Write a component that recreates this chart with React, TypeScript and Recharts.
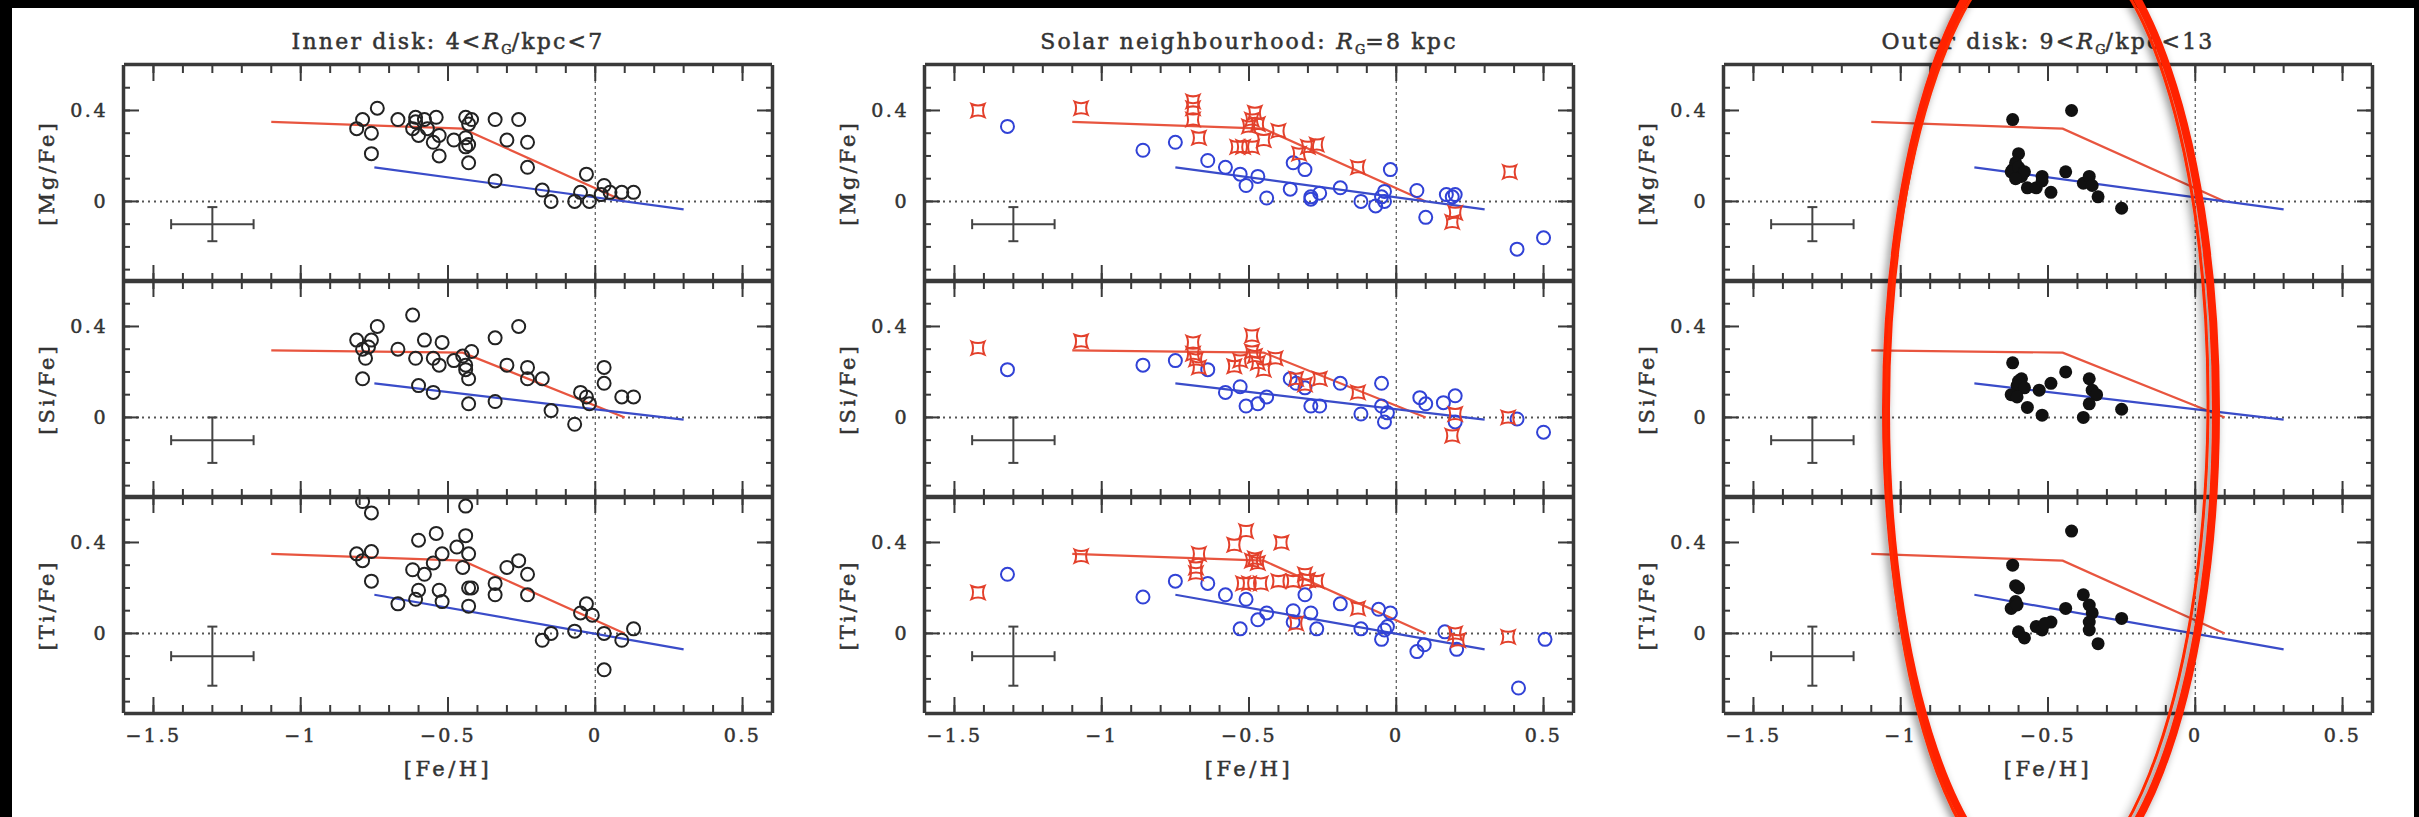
import React from 'react';
import { ScatterChart, Scatter, XAxis, YAxis, ReferenceLine, ErrorBar } from 'recharts';

// ---------- axes ----------
const X_DOMAIN = [-1.6, 0.6];
const Y_DOMAIN = [-0.35, 0.6];
const X_MAJOR = [-1.5, -1, -0.5, 0, 0.5];
const X_MINOR = [-1.5, -1.4, -1.3, -1.2, -1.1, -1, -0.9, -0.8, -0.7, -0.6, -0.5, -0.4, -0.3, -0.2, -0.1, 0, 0.1, 0.2, 0.3, 0.4, 0.5];
const Y_MAJOR = [0, 0.4];
const Y_MINOR = [-0.3, -0.2, -0.1, 0, 0.1, 0.2, 0.3, 0.4, 0.5];

const PANEL_TITLES = ['Inner disk: 4<', 'Solar neighbourhood: ', 'Outer disk: 9<'];
const PANEL_TITLE_TAILS = ['/kpc<7', '=8 kpc', '/kpc<13'];
const Y_TITLES = ['[Mg/Fe]', '[Si/Fe]', '[Ti/Fe]'];
const X_TITLE = '[Fe/H]';

// ---------- typical error bar ----------
const ERR_X = -1.3;
const ERR_Y = -0.1;
const ERR_DX = 0.14;
const ERR_DY = [0.075, 0.1, 0.13];

// ---------- model lines ----------
const THICK_MG = [[-1.1, 0.35], [-0.45, 0.32], [0.1, 0.0]];
const THICK_SI = [[-1.1, 0.295], [-0.45, 0.285], [0.1, 0.0]];
const THICK_TI = [[-1.1, 0.35], [-0.45, 0.32], [0.1, 0.0]];
const THIN_MG = [[-0.75, 0.15], [0.3, -0.035]];
const THIN_SI = [[-0.75, 0.15], [0.3, -0.01]];
const THIN_TI = [[-0.75, 0.17], [0.3, -0.07]];

// ---------- inner disk ----------
const INNER_MG = [[-0.79,0.36],[-0.81,0.32],[-0.76,0.30],[-0.74,0.41],[-0.76,0.21],[-0.67,0.36],[-0.61,0.37],[-0.61,0.35],[-0.58,0.36],[-0.54,0.37],[-0.62,0.32],[-0.60,0.29],[-0.57,0.32],[-0.55,0.26],[-0.53,0.29],[-0.53,0.20],[-0.48,0.27],[-0.44,0.37],[-0.43,0.34],[-0.44,0.28],[-0.43,0.25],[-0.44,0.24],[-0.43,0.17],[-0.42,0.36],[-0.34,0.36],[-0.26,0.36],[-0.30,0.27],[-0.23,0.26],[-0.23,0.15],[-0.34,0.09],[-0.18,0.05],[-0.15,0.0],[-0.07,0.0],[-0.05,0.04],[-0.03,0.12],[-0.02,0.0],[0.03,0.07],[0.02,0.03],[0.05,0.04],[0.09,0.04],[0.13,0.04]];
const INNER_SI = [[-0.81,0.34],[-0.79,0.30],[-0.78,0.26],[-0.77,0.31],[-0.76,0.34],[-0.74,0.40],[-0.79,0.17],[-0.67,0.30],[-0.62,0.45],[-0.61,0.26],[-0.58,0.34],[-0.52,0.33],[-0.55,0.26],[-0.53,0.23],[-0.48,0.25],[-0.45,0.27],[-0.44,0.23],[-0.44,0.21],[-0.43,0.17],[-0.42,0.29],[-0.60,0.14],[-0.55,0.11],[-0.43,0.06],[-0.34,0.07],[-0.34,0.35],[-0.26,0.40],[-0.30,0.23],[-0.23,0.22],[-0.23,0.17],[-0.18,0.17],[-0.05,0.11],[-0.03,0.09],[-0.02,0.06],[0.03,0.22],[0.03,0.15],[0.09,0.09],[0.13,0.09],[-0.15,0.03],[-0.07,-0.03]];
const INNER_TI = [[-0.79,0.58],[-0.76,0.53],[-0.81,0.35],[-0.79,0.32],[-0.76,0.36],[-0.76,0.23],[-0.60,0.41],[-0.54,0.44],[-0.62,0.28],[-0.58,0.26],[-0.55,0.31],[-0.52,0.35],[-0.47,0.38],[-0.44,0.43],[-0.43,0.35],[-0.45,0.29],[-0.44,0.56],[-0.60,0.19],[-0.61,0.15],[-0.67,0.13],[-0.53,0.19],[-0.52,0.14],[-0.43,0.20],[-0.42,0.20],[-0.43,0.12],[-0.34,0.22],[-0.34,0.17],[-0.30,0.29],[-0.26,0.32],[-0.23,0.26],[-0.23,0.17],[-0.18,-0.03],[-0.15,0.0],[-0.07,0.01],[-0.05,0.09],[-0.03,0.13],[-0.01,0.08],[0.03,0.0],[0.03,-0.16],[0.09,-0.03],[0.13,0.02]];

// ---------- solar neighbourhood ----------
const SOLAR_MG_THICK = [[-1.42,0.40],[-1.07,0.41],[-0.69,0.44],[-0.69,0.41],[-0.69,0.36],[-0.67,0.28],[-0.54,0.24],[-0.52,0.24],[-0.49,0.24],[-0.50,0.33],[-0.49,0.36],[-0.48,0.39],[-0.47,0.34],[-0.45,0.27],[-0.40,0.31],[-0.33,0.21],[-0.30,0.24],[-0.27,0.25],[-0.13,0.15],[0.385,0.13],[0.20,-0.05],[0.19,-0.09]];
const SOLAR_MG_THIN = [[-1.32,0.33],[-0.86,0.225],[-0.75,0.26],[-0.64,0.18],[-0.58,0.15],[-0.53,0.12],[-0.51,0.07],[-0.47,0.11],[-0.44,0.015],[-0.36,0.054],[-0.35,0.17],[-0.31,0.14],[-0.29,0.01],[-0.29,0.02],[-0.26,0.036],[-0.19,0.06],[-0.12,0.0],[-0.07,-0.02],[-0.05,0.02],[-0.04,0.044],[-0.02,0.14],[-0.04,0.0],[0.07,0.048],[0.10,-0.07],[0.17,0.03],[0.20,0.03],[0.19,0.02],[0.41,-0.21],[0.50,-0.16]];
const SOLAR_SI_THICK = [[-1.42,0.305],[-1.07,0.335],[-0.69,0.33],[-0.69,0.28],[-0.68,0.255],[-0.67,0.22],[-0.55,0.225],[-0.53,0.25],[-0.49,0.36],[-0.49,0.29],[-0.48,0.27],[-0.47,0.24],[-0.45,0.21],[-0.41,0.26],[-0.34,0.17],[-0.31,0.145],[-0.26,0.17],[-0.13,0.11],[0.20,0.015],[0.19,-0.08],[0.38,0.0]];
const SOLAR_SI_THIN = [[-1.32,0.21],[-0.86,0.23],[-0.75,0.25],[-0.64,0.21],[-0.58,0.11],[-0.53,0.135],[-0.51,0.05],[-0.47,0.06],[-0.44,0.09],[-0.36,0.17],[-0.34,0.15],[-0.31,0.13],[-0.29,0.05],[-0.26,0.05],[-0.19,0.15],[-0.05,0.15],[0.08,0.087],[0.10,0.06],[0.16,0.065],[0.20,0.095],[-0.12,0.015],[-0.05,0.05],[-0.04,-0.02],[-0.03,0.02],[0.20,-0.02],[0.41,-0.007],[0.50,-0.065]];
const SOLAR_TI_THICK = [[-1.42,0.18],[-1.07,0.34],[-0.68,0.29],[-0.68,0.265],[-0.67,0.35],[-0.55,0.39],[-0.51,0.45],[-0.49,0.32],[-0.48,0.33],[-0.47,0.31],[-0.52,0.22],[-0.50,0.22],[-0.46,0.22],[-0.40,0.23],[-0.39,0.40],[-0.35,0.23],[-0.31,0.26],[-0.30,0.235],[-0.27,0.23],[-0.34,0.044],[-0.13,0.11],[0.20,0.0],[0.21,-0.03],[0.38,-0.015]];
const SOLAR_TI_THIN = [[-1.32,0.26],[-0.86,0.16],[-0.75,0.23],[-0.64,0.22],[-0.58,0.17],[-0.51,0.15],[-0.53,0.02],[-0.47,0.06],[-0.44,0.09],[-0.35,0.10],[-0.35,0.05],[-0.31,0.17],[-0.29,0.09],[-0.27,0.02],[-0.19,0.13],[-0.12,0.02],[-0.06,0.106],[-0.05,-0.026],[-0.04,0.015],[-0.03,0.03],[-0.02,0.09],[0.07,-0.08],[0.095,-0.05],[0.165,0.007],[0.205,-0.07],[0.415,-0.24],[0.505,-0.026]];

// ---------- outer disk ----------
const OUTER_MG = [[-0.62,0.36],[-0.42,0.40],[-0.60,0.21],[-0.61,0.17],[-0.62,0.14],[-0.605,0.12],[-0.625,0.13],[-0.60,0.15],[-0.59,0.11],[-0.58,0.13],[-0.57,0.06],[-0.54,0.06],[-0.52,0.11],[-0.52,0.09],[-0.49,0.04],[-0.44,0.13],[-0.38,0.08],[-0.36,0.11],[-0.35,0.07],[-0.33,0.02],[-0.25,-0.03],[-0.61,0.10]];
const OUTER_SI = [[-0.62,0.24],[-0.44,0.20],[-0.49,0.15],[-0.53,0.12],[-0.59,0.17],[-0.60,0.16],[-0.605,0.14],[-0.58,0.13],[-0.625,0.10],[-0.605,0.09],[-0.36,0.17],[-0.35,0.12],[-0.335,0.10],[-0.36,0.06],[-0.25,0.036],[-0.57,0.044],[-0.52,0.01],[-0.38,0.0]];
const OUTER_TI = [[-0.42,0.45],[-0.62,0.30],[-0.61,0.21],[-0.60,0.20],[-0.61,0.14],[-0.625,0.11],[-0.605,0.125],[-0.60,0.007],[-0.58,-0.02],[-0.54,0.03],[-0.52,0.015],[-0.49,0.05],[-0.44,0.11],[-0.38,0.17],[-0.36,0.125],[-0.35,0.09],[-0.36,0.05],[-0.36,0.015],[-0.33,-0.045],[-0.25,0.066],[-0.51,0.044]];

// ---------- layout ----------
const W = 2419;
const H = 817;
const PW = 648;
const PH = 216;
const PANEL_LEFT = [124, 925, 1724];
const ROW_TOP = [65, 281, 497];
const ML = 100;
const MR = 14;
const MT = 14;
const FONT = '"DejaVu Serif", serif';
const TXT = '#333';
const INK = '#3a3a3a';
const AXIS = { stroke: INK, strokeWidth: 2.5 };
const RED = '#e3402b';
const BLUE = '#3142d6';
const RED_LINE = '#e8553f';
const BLUE_LINE = '#3a4cc9';
const XMAJ_LEN = 16;
const XMIN_LEN = 9;
const YMAJ_LEN = 15;
const YMIN_LEN = 7;

const pts = (a: number[][]) => a.map(([x, y]) => ({ x, y }));
const fmt = (v: number) => (v === 0 ? '0' : v < 0 ? '\u2212' + String(-v) : String(v));

const Empty = () => <g />;
const openCircle = (color: string) => (p: any) =>
  <circle cx={p.cx} cy={p.cy} r={6.5} fill="none" stroke={color} strokeWidth={2} />;
const FilledDot = (p: any) => <circle cx={p.cx} cy={p.cy} r={6.5} fill="#111" />;
const Star = (p: any) => {
  const r = 6.5;
  const k = 3;
  const { cx, cy } = p;
  const d = `M${cx - r},${cy - r} Q${cx},${cy - r + k} ${cx + r},${cy - r} Q${cx + r - k},${cy} ${cx + r},${cy + r} Q${cx},${cy + r - k} ${cx - r},${cy + r} Q${cx - r + k},${cy} ${cx - r},${cy - r} Z`;
  return <path d={d} fill="none" stroke={RED} strokeWidth={2} />;
};

// tick renderer: draws an inward tick line at the axis plus an optional label
const mkTick = (orient: 'left' | 'right' | 'top' | 'bottom', len: number, labeled: boolean) => (p: any) => {
  const { x, y } = p;
  let l: any;
  if (orient === 'bottom') l = { x1: x, y1: y, x2: x, y2: y - len };
  else if (orient === 'top') l = { x1: x, y1: y, x2: x, y2: y + len };
  else if (orient === 'left') l = { x1: x, y1: y, x2: x + len, y2: y };
  else l = { x1: x, y1: y, x2: x - len, y2: y };
  const v = p.payload.value;
  return (
    <g>
      <line {...l} stroke={INK} strokeWidth={2} />
      {labeled && orient === 'left' && (
        <text x={x - 16} y={y + 7} textAnchor="end" fontFamily={FONT} fontSize={19} fill={TXT} stroke={TXT} strokeWidth={0.5} letterSpacing={2.5}>
          {fmt(v)}
        </text>
      )}
      {labeled && orient === 'bottom' && (
        <text x={x} y={y + 29} textAnchor="middle" fontFamily={FONT} fontSize={19} fill={TXT} stroke={TXT} strokeWidth={0.5} letterSpacing={2.5}>
          {fmt(v)}
        </text>
      )}
    </g>
  );
};

const T_B_MAJ = mkTick('bottom', XMAJ_LEN, false);
const T_B_MAJ_L = mkTick('bottom', XMAJ_LEN, true);
const T_B_MIN = mkTick('bottom', XMIN_LEN, false);
const T_T_MAJ = mkTick('top', XMAJ_LEN, false);
const T_T_MIN = mkTick('top', XMIN_LEN, false);
const T_L_MAJ = mkTick('left', YMAJ_LEN, true);
const T_L_MIN = mkTick('left', YMIN_LEN, false);
const T_R_MAJ = mkTick('right', YMAJ_LEN, false);
const T_R_MIN = mkTick('right', YMIN_LEN, false);

function line(data: number[][], color: string, key: string) {
  return (
    <Scatter key={key} xAxisId="b" yAxisId="l" data={pts(data)} line={{ stroke: color, strokeWidth: 2.2 }} lineType="joint" shape={Empty} isAnimationActive={false} />
  );
}
function points(data: number[][], shape: any, key: string) {
  return <Scatter key={key} xAxisId="b" yAxisId="l" data={pts(data)} shape={shape} isAnimationActive={false} />;
}
function errorCross(dy: number) {
  return (
    <Scatter key="err" xAxisId="b" yAxisId="l" data={[{ x: ERR_X, y: ERR_Y, ex: ERR_DX, ey: dy }]} shape={Empty} isAnimationActive={false}>
      <ErrorBar dataKey="ex" direction="x" width={5} stroke="#444" strokeWidth={2} />
      <ErrorBar dataKey="ey" direction="y" width={5} stroke="#444" strokeWidth={2} />
    </Scatter>
  );
}

function subplot(key: string, left: number, top: number, showX: boolean, series: React.ReactNode[]) {
  const MB = showX ? 50 : 14;
  const common = { type: 'number' as const, domain: X_DOMAIN, allowDataOverflow: true, interval: 0 as const, axisLine: AXIS, tickLine: false, tickSize: 0, tickMargin: 0, dataKey: 'x', height: 1 };
  const ycommon = { type: 'number' as const, domain: Y_DOMAIN, allowDataOverflow: true, interval: 0 as const, axisLine: AXIS, tickLine: false, tickSize: 0, tickMargin: 0, dataKey: 'y', width: 1 };
  return (
    <div key={key} style={{ position: 'absolute', left: left - ML, top: top - MT }}>
      <ScatterChart width={PW + ML + MR} height={PH + MT + MB} margin={{ top: MT - 2, right: MR - 2, bottom: MB - 2, left: ML - 2 }}>
        <XAxis xAxisId="b" orientation="bottom" ticks={X_MAJOR} tick={showX ? T_B_MAJ_L : T_B_MAJ} {...common} />
        <XAxis xAxisId="bm" orientation="bottom" ticks={X_MINOR} tick={T_B_MIN} {...common} />
        <XAxis xAxisId="t" orientation="top" ticks={X_MAJOR} tick={T_T_MAJ} {...common} />
        <XAxis xAxisId="tm" orientation="top" ticks={X_MINOR} tick={T_T_MIN} {...common} />
        <YAxis yAxisId="l" orientation="left" ticks={Y_MAJOR} tick={T_L_MAJ} {...ycommon} />
        <YAxis yAxisId="lm" orientation="left" ticks={Y_MINOR} tick={T_L_MIN} {...ycommon} />
        <YAxis yAxisId="r" orientation="right" ticks={Y_MAJOR} tick={T_R_MAJ} {...ycommon} />
        <YAxis yAxisId="rm" orientation="right" ticks={Y_MINOR} tick={T_R_MIN} {...ycommon} />
        <ReferenceLine xAxisId="b" yAxisId="l" y={0} stroke="#555" strokeWidth={2} strokeDasharray="2 4" />
        <ReferenceLine xAxisId="b" yAxisId="l" x={0} stroke="#555" strokeWidth={1.2} strokeDasharray="3 3" />
        {series}
      </ScatterChart>
    </div>
  );
}

const innerRows = [
  [line(THICK_MG, RED_LINE, 'tk'), line(THIN_MG, BLUE_LINE, 'tn'), points(INNER_MG, openCircle('#222'), 'p'), errorCross(ERR_DY[0])],
  [line(THICK_SI, RED_LINE, 'tk'), line(THIN_SI, BLUE_LINE, 'tn'), points(INNER_SI, openCircle('#222'), 'p'), errorCross(ERR_DY[1])],
  [line(THICK_TI, RED_LINE, 'tk'), line(THIN_TI, BLUE_LINE, 'tn'), points(INNER_TI, openCircle('#222'), 'p'), errorCross(ERR_DY[2])],
];
const solarRows = [
  [line(THICK_MG, RED_LINE, 'tk'), line(THIN_MG, BLUE_LINE, 'tn'), points(SOLAR_MG_THIN, openCircle(BLUE), 'pb'), points(SOLAR_MG_THICK, Star, 'pr'), errorCross(ERR_DY[0])],
  [line(THICK_SI, RED_LINE, 'tk'), line(THIN_SI, BLUE_LINE, 'tn'), points(SOLAR_SI_THIN, openCircle(BLUE), 'pb'), points(SOLAR_SI_THICK, Star, 'pr'), errorCross(ERR_DY[1])],
  [line(THICK_TI, RED_LINE, 'tk'), line(THIN_TI, BLUE_LINE, 'tn'), points(SOLAR_TI_THIN, openCircle(BLUE), 'pb'), points(SOLAR_TI_THICK, Star, 'pr'), errorCross(ERR_DY[2])],
];
const outerRows = [
  [line(THICK_MG, RED_LINE, 'tk'), line(THIN_MG, BLUE_LINE, 'tn'), points(OUTER_MG, FilledDot, 'p'), errorCross(ERR_DY[0])],
  [line(THICK_SI, RED_LINE, 'tk'), line(THIN_SI, BLUE_LINE, 'tn'), points(OUTER_SI, FilledDot, 'p'), errorCross(ERR_DY[1])],
  [line(THICK_TI, RED_LINE, 'tk'), line(THIN_TI, BLUE_LINE, 'tn'), points(OUTER_TI, FilledDot, 'p'), errorCross(ERR_DY[2])],
];
const PANELS = [innerRows, solarRows, outerRows];

const textStyle: React.CSSProperties = {
  position: 'absolute',
  fontFamily: FONT,
  color: TXT,
  whiteSpace: 'nowrap',
  lineHeight: 1,
  WebkitTextStroke: '0.5px #333',
};

export default function App() {
  return (
    <div style={{ position: 'absolute', left: 0, top: 0, width: W, height: H, background: '#000', overflow: 'hidden' }}>
      <div style={{ position: 'absolute', left: 12, top: 8, width: 2402, height: H - 8, background: '#fff' }} />
      {PANELS.map((rows, pi) => (
        <React.Fragment key={pi}>
          <div style={{ ...textStyle, fontSize: 22, letterSpacing: 2.2, left: PANEL_LEFT[pi] + PW / 2, top: 43, transform: 'translate(-50%, -50%)' }}>
            {PANEL_TITLES[pi]}
            <i>R</i>
            <sub style={{ fontSize: 13, verticalAlign: -5, letterSpacing: 0 }}>G</sub>
            {PANEL_TITLE_TAILS[pi]}
          </div>
          {rows.map((series, ri) => subplot(`s${pi}-${ri}`, PANEL_LEFT[pi], ROW_TOP[ri], ri === 2, series))}
          {Y_TITLES.map((t, ri) => (
            <div key={`yt${ri}`} style={{ ...textStyle, fontSize: 21, letterSpacing: 3, left: PANEL_LEFT[pi] - 77, top: ROW_TOP[ri] + PH / 2, transform: 'translate(-50%, -50%) rotate(-90deg)' }}>
              {t}
            </div>
          ))}
          <div style={{ ...textStyle, fontSize: 21, letterSpacing: 3.5, left: PANEL_LEFT[pi] + PW / 2, top: 769, transform: 'translate(-50%, -50%)' }}>{X_TITLE}</div>
        </React.Fragment>
      ))}
      <svg width={W} height={H} style={{ position: 'absolute', left: 0, top: 0, pointerEvents: 'none' }}>
        <defs>
          <filter id="sh" x="-20%" y="-20%" width="140%" height="140%">
            <feDropShadow dx={-3} dy={3} stdDeviation={4} floodColor="#000" floodOpacity={0.45} />
          </filter>
        </defs>
        <g filter="url(#sh)">
          <ellipse cx={2051} cy={410} rx={165} ry={482} fill="none" stroke="#ff2200" strokeWidth={8} />
          <ellipse cx={2047} cy={414} rx={161} ry={478} fill="none" stroke="#ff2a00" strokeWidth={3} transform="rotate(0.6 2051 410)" />
        </g>
      </svg>
    </div>
  );
}
